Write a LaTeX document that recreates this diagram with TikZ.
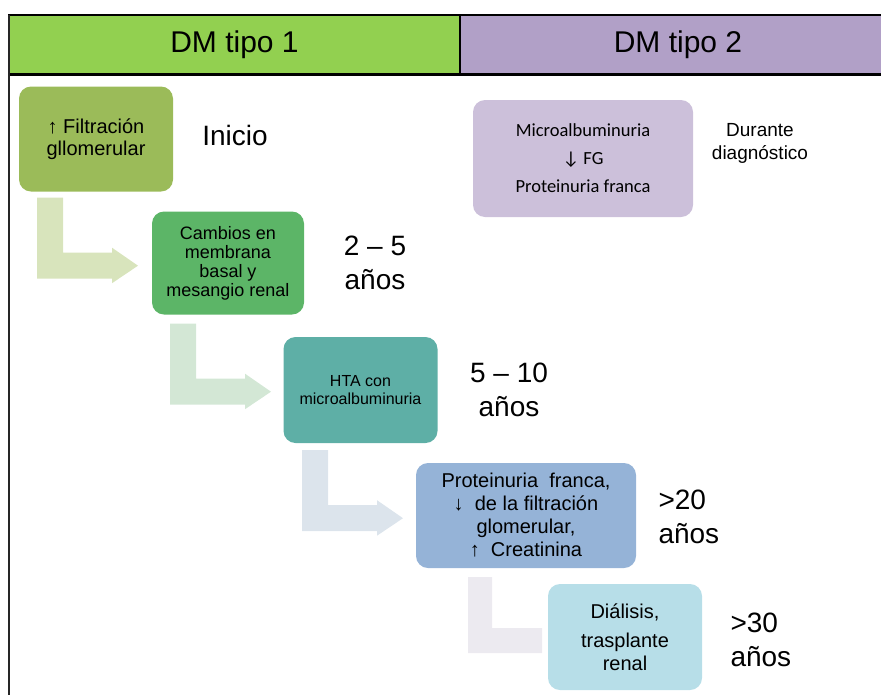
\documentclass[tikz,border=0pt]{standalone}
\usepackage{fontspec}
\setmainfont{Liberation Sans}
\newfontfamily\calibrilike{Carlito}
\usetikzlibrary{calc}

\definecolor{hdrgreen}{HTML}{92D050}
\definecolor{hdrpurple}{HTML}{B1A0C7}
\definecolor{olivebox}{HTML}{9BBB59}
\definecolor{greenbox}{HTML}{5CB567}
\definecolor{tealbox}{HTML}{5EAFA6}
\definecolor{bluebox}{HTML}{95B3D7}
\definecolor{cyanbox}{HTML}{B7DEE8}
\definecolor{lilacbox}{HTML}{CCC0DA}
\definecolor{arrowA}{HTML}{D8E4BC}
\definecolor{arrowB}{HTML}{D3E7D5}
\definecolor{arrowC}{HTML}{DCE4EC}
\definecolor{arrowD}{HTML}{ECEAF0}

\newcommand{\fsz}[2]{\fontsize{#1}{#2}\selectfont}

\tikzset{
  stage/.style={rounded corners=12pt, inner sep=0pt, align=center, text=black},
  timelabel/.style={align=center, font=\fsz{28}{34}},
  hdrtext/.style={font=\fsz{30}{34}},
  % bent arrow leading from one stage down to the next
  bentarrow/.pic={
    \fill[#1] (0,0) -- (26,0) -- (26,55) -- (75,55) -- (75,50) -- (101,68)
      -- (75,85.5) -- (75,81) -- (0,81) -- cycle;
  },
  % last bent bar, its point hidden behind the final stage
  bentbar/.pic={
    \fill[#1] (0,0) -- (24,0) -- (24,51) -- (74,51) -- (74,76) -- (0,76) -- cycle;
  }
}

\begin{document}
\begin{tikzpicture}[x=1pt, y=-1pt]
\useasboundingbox (0,0) rectangle (881,694);

% table frame and header
\begin{scope}
  \clip (0,0) rectangle (881,694);
  \fill[hdrgreen] (9,15) rectangle (460,74);
  \fill[hdrpurple] (460,15) rectangle (896,74);
  \draw[line width=2pt] (9,15) rectangle (896,74);
  \draw[line width=2pt] (460,15) -- (460,74);
  \draw[line width=3pt] (9,74) -- (896,74);
  \draw[line width=2pt, black!85] (9,15) -- (9,700);
\end{scope}
\node[hdrtext] (h1) at (234.5,45) {DM tipo 1};
\node[hdrtext] (h2) at (678,45) {DM tipo 2};

% stages of type 1
\node[stage, fill=olivebox, minimum width=154pt, minimum height=105pt, font=\fsz{20}{22}]
  (b1) at (96,139) {↑ Filtración\\gllomerular};
\node[stage, fill=greenbox, minimum width=152pt, minimum height=103pt, font=\fsz{18}{19}]
  (b2) at (228,263) {Cambios en\\membrana\\basal y\\mesangio renal};
\node[stage, fill=tealbox, minimum width=154pt, minimum height=106pt, font=\fsz{16}{18}]
  (b3) at (360.5,390) {HTA con\\microalbuminuria};
\node[stage, fill=bluebox, minimum width=220pt, minimum height=105pt, font=\fsz{20}{23}]
  (b4) at (526,515.5) {Proteinuria\ \ franca,\\↓\ \ de la filtración\\glomerular,\\↑\ \ Creatinina};

% bent arrows between the stages
\pic at ($(b1.south)+(-59,6)$) {bentarrow=arrowA};
\pic at ($(b2.south)+(-58,9)$) {bentarrow=arrowB};
\pic at ($(b3.south)+(-58.5,7)$) {bentarrow=arrowC};
\pic at ($(b4.south)+(-58,9)$) {bentbar=arrowD};

\node[stage, fill=cyanbox, minimum width=154pt, minimum height=106pt, font=\fsz{20}{23}]
  (b5) at (625,637) {Diálisis,\\[6pt]trasplante\\renal};

% type 2
\node[stage, fill=lilacbox, minimum width=220pt, minimum height=117pt, font=\calibrilike\fsz{18.5}{28}]
  (p1) at (583,158.5) {Microalbuminuria\\↓ FG\\Proteinuria franca};

% time labels
\node[timelabel] (t1) at (235,135) {Inicio};
\node[timelabel] (t2) at (375,263) {2 – 5\\años};
\node[timelabel] (t3) at (509,390) {5 – 10\\años};
\node[timelabel, align=left, anchor=west] (t4) at (655,517) {>20\\años};
\node[timelabel, align=left, anchor=west] (t5) at (727,640) {>30\\años};
\node[align=center, font=\fsz{19}{23}] (t6) at (760,143) {Durante\\diagnóstico};
\end{tikzpicture}
\end{document}
